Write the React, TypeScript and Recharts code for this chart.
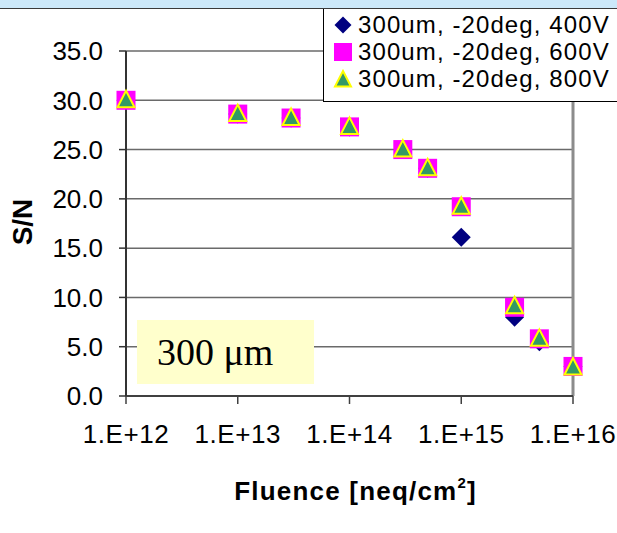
import { ScatterChart, Scatter, XAxis, YAxis, CartesianGrid, ReferenceLine } from "recharts"

// fluence points (neq/cm^2) and S/N
const fluence = [1e12, 1e13, 3e13, 1e14, 3e14, 5e14, 1e15, 3e15, 5e15, 1e16]
const sn400V = [30.0, 28.6, 28.2, 27.3, 25.0, 23.1, 16.1, 8.0, 5.5, 3.0]
const sn600V = [30.0, 28.6, 28.2, 27.3, 25.0, 23.1, 19.2, 9.0, 5.8, 3.0]
const sn800V = [30.1, 28.7, 28.3, 27.4, 25.1, 23.2, 19.3, 9.2, 5.9, 3.0]

const xTicks = [1e12, 1e13, 1e14, 1e15, 1e16]
const yTicks = [0, 5, 10, 15, 20, 25, 30, 35]
const seriesNames = ["300um, -20deg, 400V", "300um, -20deg, 600V", "300um, -20deg, 800V"]

const toPoints = (ys: number[]) => fluence.map((x, i) => ({ x, y: ys[i] }))

const SANS = "'Liberation Sans', Arial, sans-serif"
const SERIF = "'Liberation Serif', 'Times New Roman', serif"

function Diamond({ cx, cy, r = 9.5 }: { cx: number; cy: number; r?: number }) {
  return <polygon points={`${cx},${cy - r} ${cx + r},${cy} ${cx},${cy + r} ${cx - r},${cy}`} fill="#000080" />
}

function Square({ cx, cy, s = 19 }: { cx: number; cy: number; s?: number }) {
  return <rect x={cx - s / 2} y={cy - s / 2} width={s} height={s} fill="#ff00ff" />
}

function Triangle({ cx, cy, h = 8.5 }: { cx: number; cy: number; h?: number }) {
  return (
    <polygon
      points={`${cx},${cy - h} ${cx + h},${cy + h - 0.5} ${cx - h},${cy + h - 0.5}`}
      fill="#339966"
      stroke="#ffff00"
      strokeWidth={2}
    />
  )
}

const XTick = ({ x, y, payload }: any) => (
  <text x={x} y={y} dy="0.71em" textAnchor="middle" fontFamily={SANS} fontSize={26} letterSpacing={0.6} fill="#000">
    {"1.E+" + Math.round(Math.log10(payload.value))}
  </text>
)

const YTick = ({ x, y, payload }: any) => (
  <text x={x} y={y} dy="0.355em" textAnchor="end" fontFamily={SANS} fontSize={26} fill="#000">
    {Number(payload.value).toFixed(1)}
  </text>
)

const legendIcons = [
  <Diamond cx={10} cy={10} r={8.5} />,
  <Square cx={10} cy={10} s={18} />,
  <Triangle cx={10} cy={10} h={8} />,
]
const legendRows = [25, 52, 79]

export default function App() {
  return (
    <div style={{ position: "absolute", left: 0, top: 0, width: 617, height: 533, background: "#fff", overflow: "hidden" }}>
      <ScatterChart width={617} height={533} margin={{ top: 51, right: 44, bottom: 0, left: 0 }}>
        <CartesianGrid vertical={false} stroke="#6a6a6a" strokeWidth={1.5} />
        <XAxis
          dataKey="x"
          type="number"
          scale="log"
          domain={[1e12, 1e16]}
          ticks={xTicks}
          interval={0}
          height={137}
          tickSize={8}
          tickMargin={21}
          axisLine={{ stroke: "#404040", strokeWidth: 2 }}
          tickLine={{ stroke: "#404040", strokeWidth: 1.5 }}
          tick={<XTick />}
          label={{
            content: ({ viewBox }: any) => (
              <text
                x={viewBox.x + viewBox.width / 2 + 6}
                y={500}
                textAnchor="middle"
                fontFamily={SANS}
                fontWeight="bold"
                fontSize={26}
                letterSpacing={1.2}
                fill="#000"
              >
                Fluence [neq/cm
                <tspan fontSize={15} dy={-12}>2</tspan>
                <tspan dy={12}>]</tspan>
              </text>
            ),
          }}
        />
        <YAxis
          dataKey="y"
          type="number"
          domain={[0, 35]}
          ticks={yTicks}
          interval={0}
          width={126}
          tickSize={7}
          tickMargin={16}
          axisLine={{ stroke: "#333", strokeWidth: 2 }}
          tickLine={{ stroke: "#333", strokeWidth: 1.5 }}
          tick={<YTick />}
          label={{
            content: () => (
              <text
                x={32}
                y={222}
                transform="rotate(-90 32 222)"
                textAnchor="middle"
                fontFamily={SANS}
                fontWeight="bold"
                fontSize={28}
                fill="#000"
              >
                S/N
              </text>
            ),
          }}
        />
        <ReferenceLine x={1e16} stroke="#8c8c8c" strokeWidth={3} />
        <Scatter
          name={seriesNames[0]}
          data={toPoints(sn400V)}
          isAnimationActive={false}
          shape={(p: any) => <Diamond cx={p.cx} cy={p.cy} />}
        />
        <Scatter
          name={seriesNames[1]}
          data={toPoints(sn600V)}
          isAnimationActive={false}
          shape={(p: any) => <Square cx={p.cx} cy={p.cy} />}
        />
        <Scatter
          name={seriesNames[2]}
          data={toPoints(sn800V)}
          isAnimationActive={false}
          shape={(p: any) => <Triangle cx={p.cx} cy={p.cy} />}
        />
      </ScatterChart>

      {/* top band */}
      <div style={{ position: "absolute", left: 0, top: 0, width: 617, height: 8, background: "#cce8f9", borderBottom: "1.5px solid #3a3a3a" }} />

      {/* legend */}
      <div
        style={{
          position: "absolute",
          left: 323,
          top: 9,
          width: 300,
          height: 92,
          background: "#fff",
          borderLeft: "1px solid #000",
          borderBottom: "1px solid #000",
        }}
      >
        {seriesNames.map((name, i) => (
          <div key={name} style={{ position: "absolute", left: 9, top: legendRows[i] - 9 - 13, height: 26, display: "flex", alignItems: "center" }}>
            <svg width={20} height={20} style={{ display: "block" }}>
              {legendIcons[i]}
            </svg>
            <span style={{ marginLeft: 5, fontFamily: SANS, fontSize: 24, letterSpacing: 1.1, lineHeight: "26px", color: "#000", whiteSpace: "nowrap" }}>{name}</span>
          </div>
        ))}
      </div>

      {/* annotation box */}
      <div
        style={{
          position: "absolute",
          left: 137,
          top: 320,
          width: 177,
          height: 64,
          background: "#ffffcc",
          fontFamily: SERIF,
          fontSize: 38,
          lineHeight: "64px",
          paddingLeft: 20,
          boxSizing: "border-box",
          color: "#000",
        }}
      >
        300 μm
      </div>
    </div>
  )
}
